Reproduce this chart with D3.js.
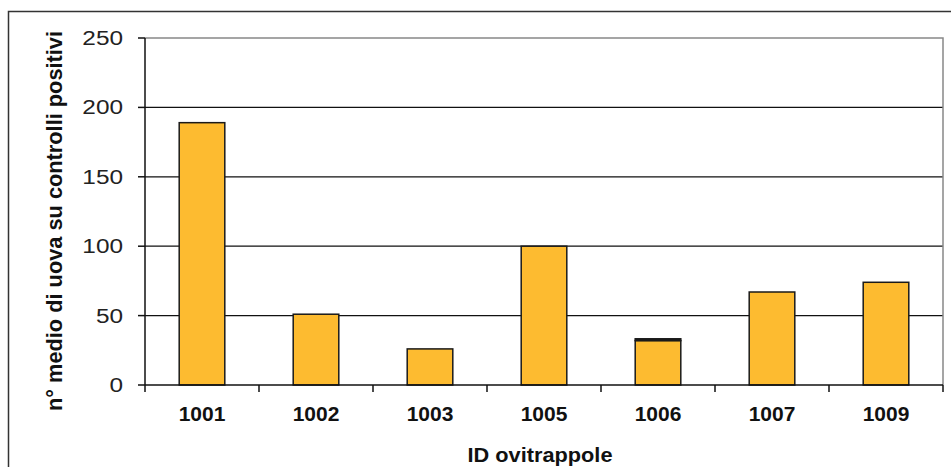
<!DOCTYPE html>
<html><head><meta charset="utf-8">
<script src="https://cdn.jsdelivr.net/npm/d3@7"></script>
<style>html,body{margin:0;padding:0;background:#fff;}svg{display:block;}</style>
</head><body>
<svg id="chart" width="951" height="467"></svg>
<script>
const categories = ["1001","1002","1003","1005","1006","1007","1009"];
const values = [189, 51, 26, 100, 32, 67, 74];
const topSegment = [0, 0, 0, 0, 1.3, 0, 0];
const yTicks = [0, 50, 100, 150, 200, 250];
const yTitle = "n° medio di uova su controlli positivi";
const xTitle = "ID ovitrappole";

const svg = d3.select("#chart");
const L = 145, R = 943, T = 38, B = 385;
const x = d3.scaleBand().domain(categories).range([L, R]).paddingInner(0.6).paddingOuter(0.3);
const xb = d3.scaleBand().domain(categories).range([L, R]);
const y = d3.scaleLinear().domain([0, 250]).range([B, T]);

svg.append("rect").attr("x", 8.5).attr("y", 11.5).attr("width", 960).attr("height", 480)
  .attr("fill", "none").attr("stroke", "#333").attr("stroke-width", 1.5);

// gridlines
svg.append("g").selectAll("line").data(yTicks.filter(d => d > 0 && d < 250)).join("line")
  .attr("x1", L).attr("x2", R).attr("y1", d => y(d)).attr("y2", d => y(d))
  .attr("stroke", "#111").attr("stroke-width", 1.3);
// plot frame top/right
svg.append("path").attr("d", `M${L},${y(250)}H${R}V${B}`).attr("fill", "none")
  .attr("stroke", "#888").attr("stroke-width", 1.5);

// bars
svg.append("g").selectAll("rect").data(categories).join("rect")
  .attr("x", d => x(d)).attr("width", x.bandwidth())
  .attr("y", (d, i) => y(values[i])).attr("height", (d, i) => B - y(values[i]))
  .attr("fill", "#FDBB30").attr("stroke", "#1a1a1a").attr("stroke-width", 1.5);
svg.append("g").selectAll("rect").data(categories.filter((d, i) => topSegment[i] > 0)).join("rect")
  .attr("x", d => x(d)).attr("width", x.bandwidth())
  .attr("y", d => { const i = categories.indexOf(d); return y(values[i] + topSegment[i]); })
  .attr("height", d => { const i = categories.indexOf(d); return y(values[i]) - y(values[i] + topSegment[i]); })
  .attr("fill", "#1a1a1a").attr("stroke", "#1a1a1a").attr("stroke-width", 1.5);

// y axis
svg.append("line").attr("x1", L).attr("x2", L).attr("y1", T).attr("y2", B).attr("stroke", "#111").attr("stroke-width", 1.5);
svg.append("g").selectAll("line").data(yTicks).join("line")
  .attr("x1", L - 7).attr("x2", L).attr("y1", d => y(d)).attr("y2", d => y(d)).attr("stroke", "#111").attr("stroke-width", 1.5);
svg.append("g").selectAll("text").data(yTicks).join("text")
  .attr("transform", d => `translate(123,${y(d) + 7}) scale(1.25,1)`)
  .attr("text-anchor", "end").attr("font-family", "Liberation Sans, Arial, sans-serif")
  .attr("font-size", 19.5).attr("fill", "#222").text(d => d);

// x axis
svg.append("line").attr("x1", L).attr("x2", R).attr("y1", B).attr("y2", B).attr("stroke", "#111").attr("stroke-width", 1.5);
const bounds = categories.map(c => xb(c)).concat([R]);
svg.append("g").selectAll("line").data(bounds).join("line")
  .attr("x1", d => d).attr("x2", d => d).attr("y1", B).attr("y2", B + 7).attr("stroke", "#111").attr("stroke-width", 1.5);
svg.append("g").selectAll("text").data(categories).join("text")
  .attr("x", d => xb(d) + xb.bandwidth() / 2).attr("y", 421)
  .attr("text-anchor", "middle").attr("font-family", "Liberation Sans, Arial, sans-serif")
  .attr("font-weight", "bold").attr("font-size", 21).attr("fill", "#111").text(d => d);

// titles
svg.append("text").attr("x", (L + R) / 2 - 4).attr("y", 462).attr("text-anchor", "middle")
  .attr("font-family", "Liberation Sans, Arial, sans-serif").attr("font-weight", "bold").attr("font-size", 21)
  .attr("textLength", 145).attr("lengthAdjust", "spacingAndGlyphs").attr("fill", "#111").text(xTitle);
svg.append("text").attr("transform", "translate(62,221) rotate(-90)").attr("text-anchor", "middle")
  .attr("font-family", "Liberation Sans, Arial, sans-serif").attr("font-weight", "bold").attr("font-size", 22)
  .attr("textLength", 380).attr("lengthAdjust", "spacingAndGlyphs").attr("fill", "#111").text(yTitle);
</script>
</body></html>
